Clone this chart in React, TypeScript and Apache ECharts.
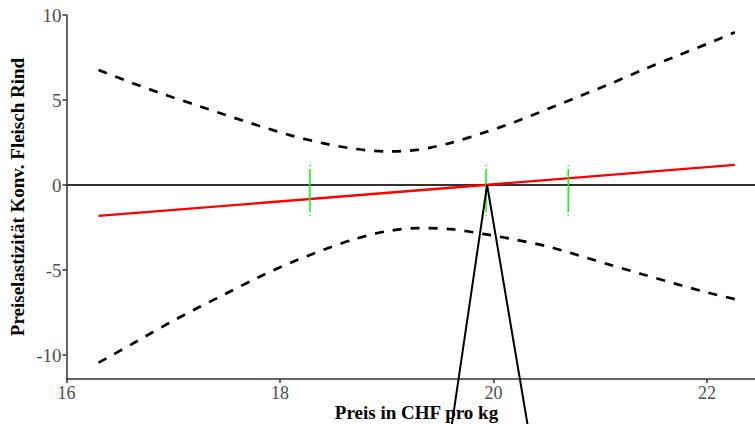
import React, { useEffect, useRef } from "react";
import * as echarts from "echarts";

const priceGrid = [16.3, 16.6, 16.9, 17.2, 17.5, 17.8, 18.1, 18.4, 18.7, 19.0, 19.3, 19.6, 19.9, 20.2, 20.5, 20.8, 21.1, 21.4, 21.7, 22.0, 22.26];
const upperCI = [6.76, 6.04, 5.36, 4.73, 4.10, 3.49, 2.92, 2.46, 2.13, 1.97, 2.08, 2.48, 3.06, 3.71, 4.45, 5.21, 5.97, 6.78, 7.55, 8.30, 8.98];
const lowerCI = [-10.45, -9.40, -8.33, -7.32, -6.37, -5.42, -4.57, -3.83, -3.18, -2.72, -2.53, -2.60, -2.87, -3.21, -3.60, -4.14, -4.71, -5.26, -5.80, -6.32, -6.71];
const elasticityX = [16.3, 22.26];
const elasticityY = [-1.82, 1.18];
const greenX = [18.28, 19.93, 20.7];
const greenRange = [1.18, -1.82];
const peakPoint = [19.94, 0];
const legLeft = [19.6, -14.5];
const legRight = [20.33, -14.5];
const xTicks = [16, 18, 20, 22];
const yTicks = [-10, -5, 0, 5, 10];
const xRange = [16, 22.557];
const yRange = [-11.41, 10];

const FONT = "'Liberation Serif', 'DejaVu Serif', serif";

export default function App() {
  const ref = useRef<HTMLDivElement>(null);
  useEffect(() => {
    if (!ref.current) return;
    const chart = echarts.init(ref.current, undefined, { renderer: "svg" });
    const series: any[] = [];
    series.push({
      type: "line",
      data: [[xRange[0], 0], [xRange[1], 0]],
      symbol: "none",
      lineStyle: { color: "#333", width: 1.8 },
      z: 1,
    });
    series.push({
      type: "line",
      data: priceGrid.map((x, i) => [x, upperCI[i]]),
      symbol: "none",
      smooth: 0.3,
      lineStyle: { color: "#000", width: 2.7, type: [9, 9] },
      z: 2,
    });
    series.push({
      type: "line",
      data: priceGrid.map((x, i) => [x, lowerCI[i]]),
      symbol: "none",
      smooth: 0.3,
      lineStyle: { color: "#000", width: 2.7, type: [9, 9] },
      z: 2,
    });
    series.push({
      type: "line",
      data: elasticityX.map((x, i) => [x, elasticityY[i]]),
      symbol: "none",
      lineStyle: { color: "#ff0000", width: 2.3 },
      z: 3,
    });
    greenX.forEach((gx) => {
      series.push({
        type: "line",
        data: [[gx, greenRange[0]], [gx, greenRange[1]]],
        symbol: "none",
        lineStyle: { color: "#00ff00", width: 1.5, type: [1, 3, 43, 3] },
        z: 4,
      });
    });
    series.push({
      type: "line",
      data: [legLeft, peakPoint, legRight],
      symbol: "none",
      clip: false,
      lineStyle: { color: "#000", width: 2 },
      z: 5,
    });
    chart.setOption({
      animation: false,
      grid: { left: 66.5, top: 15, width: 700, bottom: 45, containLabel: false, outerBoundsMode: "none" },
      xAxis: {
        type: "value",
        min: xRange[0],
        max: xRange[1],
        name: "Preis in CHF pro kg",
        nameLocation: "middle",
        nameGap: 24,
        nameMoveOverlap: false,
        nameTextStyle: { fontFamily: FONT, fontSize: 19, fontWeight: "bold", color: "#000", lineHeight: 19 },
        axisLine: { show: true, onZero: false, lineStyle: { color: "#333", width: 1.5 } },
        axisTick: { show: true, length: 4, customValues: xTicks, lineStyle: { color: "#333", width: 1.5 } },
        axisLabel: { customValues: xTicks, fontFamily: FONT, fontSize: 18, lineHeight: 17, color: "#4d4d4d", margin: 5 },
        splitLine: { show: false },
      },
      yAxis: {
        type: "value",
        min: yRange[0],
        max: yRange[1],
        name: "Preiselastizität Konv. Fleisch Rind",
        nameLocation: "middle",
        nameGap: 40,
        nameMoveOverlap: false,
        nameTextStyle: { fontFamily: FONT, fontSize: 19, fontWeight: "bold", color: "#000" },
        axisLine: { show: true, onZero: false, lineStyle: { color: "#333", width: 1.5 } },
        axisTick: { show: true, length: 4, customValues: yTicks, lineStyle: { color: "#333", width: 1.5 } },
        axisLabel: { customValues: yTicks, fontFamily: FONT, fontSize: 19, color: "#4d4d4d", margin: 5 },
        splitLine: { show: false },
      },
      series,
    });
    return () => chart.dispose();
  }, []);
  return (
    <div
      ref={ref}
      style={{ position: "fixed", left: 0, top: 0, width: 755, height: 424, background: "#fff" }}
    />
  );
}
